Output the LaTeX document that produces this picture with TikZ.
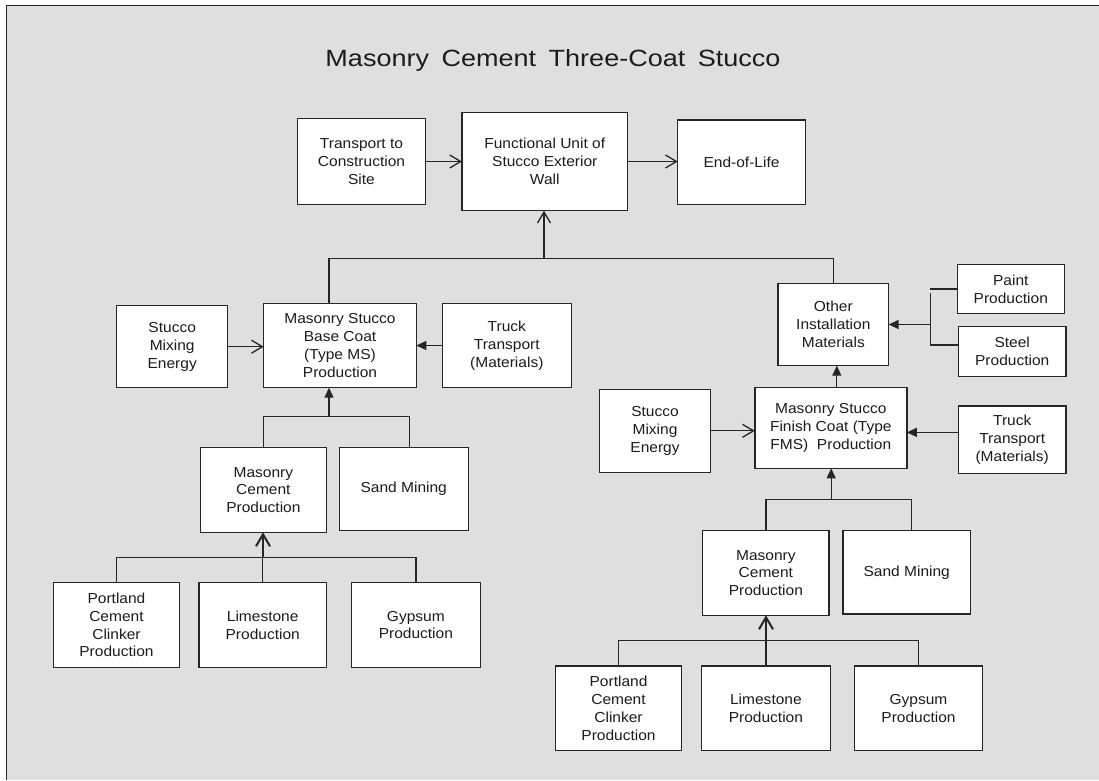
\documentclass[tikz,border=0pt]{standalone}
\usepackage{fontspec}
\setmainfont{Liberation Sans}
\newfontfamily\boxfont[FakeStretch=1.07]{Liberation Sans}
\newfontfamily\titlefont[FakeStretch=1.15]{Liberation Sans}
\usetikzlibrary{arrows.meta,calc}
\definecolor{bg}{RGB}{223,223,223}
\definecolor{ink}{RGB}{28,28,28}
\definecolor{edge}{RGB}{38,38,38}
\begin{document}
\begin{tikzpicture}[x=1pt,y=-1pt,
  box/.style={draw=edge, line width=1.4pt, fill=white, inner sep=0pt, outer sep=0pt, align=center, text=ink, font=\boxfont\fontsize{14.5}{17.8}\selectfont},
  conn/.style={draw=edge, line width=1.3pt},
  openarr/.style={conn, -{Straight Barb[length=11pt,width=13pt]}},
  fillarr/.style={conn, -{Triangle[length=10pt,width=9pt]}},
  thickarr/.style={conn, line width=2pt, -{Straight Barb[length=12pt,width=14pt]}},
]
\useasboundingbox (0,0) rectangle (1099,780);
\fill[white] (0,0) rectangle (1099,780);
\fill[bg] (6.3,5.3) rectangle (1099,780);
\draw[edge, line width=1.5pt] (6.3,780) -- (6.3,5.3) -- (1099,5.3);

\node[anchor=base, text=ink, font=\titlefont\fontsize{23.5}{28}\selectfont, inner sep=0pt] (title) at (553,66.7) {Masonry\hspace{5pt} Cement\hspace{5pt} Three-Coat\hspace{5pt} Stucco};

% top row
\node[box, minimum width=127.6pt, minimum height=85.6pt] (T) at (361.5,161.5) {Transport to\\Construction\\Site};
\node[box, minimum width=165.5pt, minimum height=98.5pt] (F) at (544.75,161.5) {Functional Unit of\\Stucco Exterior\\Wall};
\node[box, minimum width=127.5pt, minimum height=84.3pt] (E) at (741.5,162.2) {End-of-Life};

% left branch
\node[box, minimum width=111pt, minimum height=82pt] (SME1) at (172.2,346.7) {Stucco\\Mixing\\Energy};
\node[box, minimum width=152.6pt, minimum height=84.4pt] (Base) at (340,345.5) {Masonry Stucco\\Base Coat\\(Type MS)\\Production};
\node[box, minimum width=129pt, minimum height=84.4pt] (Truck1) at (506.8,345.5) {Truck\\Transport\\(Materials)};
\node[box, minimum width=126.2pt, minimum height=84.6pt] (MC1) at (263.4,490) {Masonry\\Cement\\Production};
\node[box, minimum width=129.1pt, minimum height=83pt] (Sand1) at (403.75,489.2) {Sand Mining};
\node[box, minimum width=126.3pt, minimum height=84.6pt] (Port1) at (116.45,625) {Portland\\Cement\\Clinker\\Production};
\node[box, minimum width=127.6pt, minimum height=84.6pt] (Lime1) at (262.7,625) {Limestone\\Production};
\node[box, minimum width=128.7pt, minimum height=84.6pt] (Gyp1) at (415.85,625) {Gypsum\\Production};

% right branch
\node[box, minimum width=110.6pt, minimum height=82.4pt] (Other) at (833.3,324.5) {Other\\Installation\\Materials};
\node[box, minimum width=107.2pt, minimum height=49.4pt] (Paint) at (1010.8,289) {Paint\\Production};
\node[box, minimum width=107.2pt, minimum height=49.6pt] (Steel) at (1012.2,351.5) {Steel\\Production};
\node[box, minimum width=152pt, minimum height=80.6pt] (Finish) at (830.8,428) {Masonry Stucco\\Finish Coat (Type\\FMS)\ \ Production};
\node[box, minimum width=110.7pt, minimum height=83pt] (SME2) at (655,430.8) {Stucco\\Mixing\\Energy};
\node[box, minimum width=107.2pt, minimum height=67.7pt] (Truck2) at (1012.2,439.9) {Truck\\Transport\\(Materials)};
\node[box, minimum width=126.3pt, minimum height=84.6pt] (MC2) at (765.85,573) {Masonry\\Cement\\Production};
\node[box, minimum width=127.5pt, minimum height=83.3pt] (Sand2) at (906.75,572.35) {Sand Mining};
\node[box, minimum width=126.4pt, minimum height=84.3pt] (Port2) at (618.5,708.15) {Portland\\Cement\\Clinker\\Production};
\node[box, minimum width=129.2pt, minimum height=84.3pt] (Lime2) at (765.9,708.15) {Limestone\\Production};
\node[box, minimum width=127.8pt, minimum height=84.3pt] (Gyp2) at (918.5,708.15) {Gypsum\\Production};

% junction coordinates
\coordinate (j0) at (544,258.3);
\coordinate (j1) at (329,416.7);
\coordinate (j2) at (263,557.7);
\coordinate (j3) at (831.2,499.3);
\coordinate (j4) at (766,640.7);
\coordinate (bt) at (930.3,293.3);
\coordinate (bb) at (930.3,345);

% top row connectors
\draw[openarr] (T.east) -- (F.west);
\draw[openarr] (F.east) -- (F.east -| E.west);
\draw[conn] ([xshift=-11pt]Base.north) |- (Other.north |- j0) -- (Other.north);
\draw[openarr] (j0) -- (j0 |- F.south);

% left branch connectors
\draw[openarr] (SME1.east) -- (SME1.east -| Base.west);
\draw[fillarr] (Truck1.west) -- (Truck1.west -| Base.east);
\draw[conn] (MC1.north) |- (j1) -| ([xshift=6pt]Sand1.north);
\draw[fillarr] (j1) -- (j1 |- Base.south);
\draw[conn] (Port1.north) |- (j2) -| (Gyp1.north);
\draw[conn] (Lime1.north) -- (Lime1.north |- j2);
\draw[thickarr] (j2) -- (j2 |- MC1.south);

% right branch connectors
\draw[conn] (Paint.west) -- (Paint.west -| bt);
\draw[conn] (bt) -- (bb) -- (bb -| Steel.west);
\draw[fillarr] (bt |- Other.east) -- (Other.east);
\draw[fillarr] ([xshift=6pt]Finish.north) -- ([xshift=6pt]Finish.north |- Other.south);
\draw[openarr] (SME2.east) -- (SME2.east -| Finish.west);
\draw[fillarr] ([yshift=7.5pt]Truck2.west) -- ([yshift=7.5pt]Truck2.west -| Finish.east);
\draw[conn] (MC2.north) |- (j3) -| ([xshift=5pt]Sand2.north);
\draw[fillarr] (j3) -- (j3 |- Finish.south);
\draw[conn] (Port2.north) |- (j4) -| (Gyp2.north);
\draw[conn] (Lime2.north) -- (Lime2.north |- j4);
\draw[thickarr] (j4) -- (j4 |- MC2.south);
\end{tikzpicture}
\end{document}
